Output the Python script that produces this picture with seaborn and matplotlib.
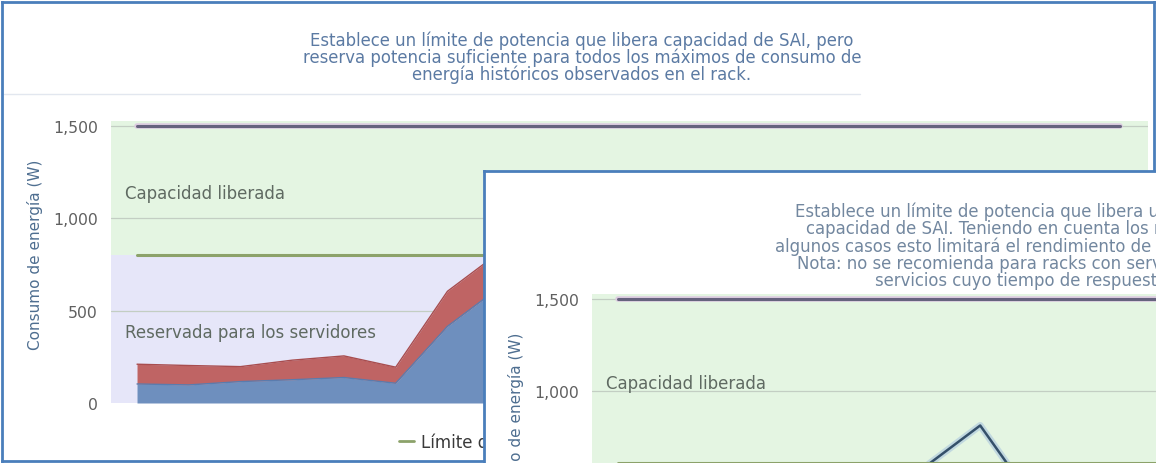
import numpy as np
import pandas as pd
import matplotlib
matplotlib.use("Agg")
import matplotlib.pyplot as plt
import seaborn as sns
from matplotlib.lines import Line2D

# ---- data -------------------------------------------------------------
slots = np.arange(20)                      # sampling slots along the x axis
ups_capacity = 1500                        # UPS capacity (W)
limit_balanced = 800                       # power cap, first profile (W)
limit_aggressive = 610                     # power cap, second profile (W)
rack_total = [210, 203, 197, 232, 255, 194, 605, 815, 420]   # total rack draw (W)
rack_base = [103, 98, 116, 126, 138, 107, 415, 625, 262]     # base server draw (W)
ytick_values = [0, 500, 1000, 1500]
ytick_labels = ["0", "500", "1,000", "1,500"]

desc_balanced = [
    "Establece un límite de potencia que libera capacidad de SAI, pero",
    "reserva potencia suficiente para todos los máximos de consumo de",
    "energía históricos observados en el rack.",
]
desc_aggressive = [
    "Establece un límite de potencia que libera una mayor",
    "capacidad de SAI. Teniendo en cuenta los máximos de consumo,",
    "algunos casos esto limitará el rendimiento de los servidores.",
    "Nota: no se recomienda para racks con servidores que ejecuten",
    "servicios cuyo tiempo de respuesta sea crítico.",
]

# ---- style ------------------------------------------------------------
W, H = 1156, 464
YMAX = 1527
FRAME = "#4a7ebb"
LAVENDER = "#e6e6f9"
GREEN_BAND = "#e4f5e2"
GRID = "#c3cec3"
CAP_COLOR = "#66637e"
LIMIT_COLOR = "#8ca26a"
BLUE_AREA = "#6e8fbe"
RED_AREA = "#bf6464"
TICK_COLOR = "#606060"
TITLE_COLOR = "#4e6e90"
BAND_TEXT = "#5f6a62"
FS_BAND = 12
FS_TICK = 11.3
FS_DESC = 11.9

sns.set_theme(style="white")
plt.rcParams["font.family"] = ["DejaVu Sans"]

fig = plt.figure(figsize=(W / 100, H / 100), dpi=100)


def box(x0, y0, x1, y1):
    return [x0 / W, 1 - y1 / H, (x1 - x0) / W, (y1 - y0) / H]


def fpt(x, y):
    return x / W, 1 - y / H


def add_frame(rect, z):
    fr = fig.add_axes(box(*rect), zorder=z)
    fr.set_facecolor("white")
    fr.set_xticks([])
    fr.set_yticks([])
    for s in fr.spines.values():
        s.set_color(FRAME)
        s.set_linewidth(2.0)
    return fr


def draw_chart(ax, limit, filled):
    ax.set_facecolor("none")
    ax.set_xlim(-0.503, 19.54)
    ax.set_ylim(0, YMAX)
    ax.axhspan(0, limit, color=LAVENDER, lw=0, zorder=0)
    ax.axhspan(limit, YMAX, color=GREEN_BAND, lw=0, zorder=0)
    for v in ytick_values[1:]:
        ax.axhline(v, color=GRID, lw=0.9, zorder=0.5)

    lines = pd.DataFrame({"slot": slots, "capacidad": ups_capacity, "limite": limit})
    usage = pd.DataFrame({"slot": slots[:len(rack_total)],
                          "total": rack_total, "base": rack_base})

    if filled:
        ax.fill_between(usage["slot"], 0, usage["base"], color=BLUE_AREA, lw=0, zorder=1)
        ax.fill_between(usage["slot"], usage["base"], usage["total"],
                        color=RED_AREA, lw=0, zorder=1)
        sns.lineplot(data=usage, x="slot", y="base", ax=ax, color="#5a7cae", lw=1.0, zorder=1.2)
        sns.lineplot(data=usage, x="slot", y="total", ax=ax, color="#a84d4f", lw=1.0, zorder=1.2)
    else:
        sns.lineplot(data=usage, x="slot", y="total", ax=ax, color="#aac6de",
                     lw=5, alpha=0.6, zorder=1.1)
        sns.lineplot(data=usage, x="slot", y="total", ax=ax, color="#34506a", lw=1.8, zorder=1.2)

    sns.lineplot(data=lines, x="slot", y="capacidad", ax=ax, color="#dccbe0", lw=4.0, zorder=2)
    sns.lineplot(data=lines, x="slot", y="capacidad", ax=ax, color=CAP_COLOR, lw=2.2, zorder=2.1)
    sns.lineplot(data=lines, x="slot", y="limite", ax=ax, color=LIMIT_COLOR, lw=2.2, zorder=2.1)

    ax.text(-0.232, (limit + YMAX) / 2 - 25, "Capacidad liberada", ha="left", va="center",
            fontsize=FS_BAND, color=BAND_TEXT, zorder=3)
    if filled:
        ax.text(-0.232, limit / 2 - 18, "Reservada para los servidores", ha="left", va="center",
                fontsize=FS_BAND, color=BAND_TEXT, zorder=3)

    ax.set_xticks([])
    ax.set_yticks(ytick_values, ytick_labels)
    ax.tick_params(axis="y", length=0, pad=9.4, labelsize=FS_TICK, labelcolor=TICK_COLOR)
    ax.set_xlabel("")
    ax.set_ylabel("Consumo de energía (W)", fontsize=11, color=TITLE_COLOR)
    ax.yaxis.set_label_coords(-0.066, 0.53)
    for s in ax.spines.values():
        s.set_visible(False)


# ---- first profile ------------------------------------------------------
frame1 = add_frame((2, 3, 1154, 462), 0)
for i, line in enumerate(desc_balanced):
    frame1.text(*fpt(582, 41 + 17 * i), line, transform=fig.transFigure,
                ha="center", va="center", fontsize=FS_DESC, color="#5b7aa3")
frame1.add_line(Line2D([4 / W, 860 / W], [1 - 95 / H] * 2, transform=fig.transFigure,
                       color="#e2e7ef", lw=1.0))

ax1 = fig.add_axes(box(111, 122, 1148, 404), zorder=1)
draw_chart(ax1, limit_balanced, filled=True)
ax1.legend(handles=[Line2D([], [], color=LIMIT_COLOR, lw=2)], labels=["Límite de potencia"],
           loc="center left", bbox_to_anchor=((391 - 111) / 1037, (404 - 443) / 282),
           frameon=False, borderpad=0, handlelength=0.85, handletextpad=0.45,
           fontsize=FS_BAND, labelcolor="#3a3a3a")

# ---- second profile -----------------------------------------------------
frame2 = add_frame((484, 172, 1175, 480), 2)
starts = [795, 806, 775, 797, 875]
for i, (line, x0) in enumerate(zip(desc_aggressive, starts)):
    frame2.text(*fpt(x0, 212 + 17.2 * i), line, transform=fig.transFigure,
                ha="left", va="center", fontsize=FS_DESC, color="#72879f")

ax2 = fig.add_axes(box(592, 295, 1629, 577), zorder=3)
draw_chart(ax2, limit_aggressive, filled=False)

fig.savefig("out.png", dpi=100)
